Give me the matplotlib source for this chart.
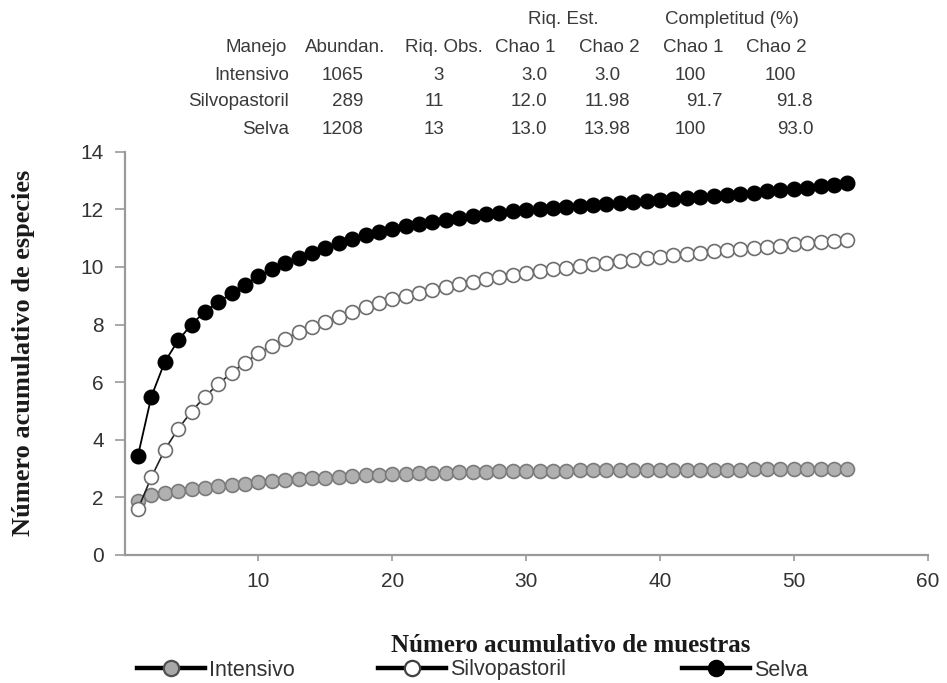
import matplotlib
matplotlib.use("Agg")
import matplotlib.pyplot as plt
from matplotlib.lines import Line2D

# ---------------- data ----------------
muestras = list(range(1, 55))

selva = [3.45, 5.50, 6.70, 7.45, 8.00, 8.45, 8.78, 9.08, 9.38, 9.68,
         9.92, 10.12, 10.32, 10.50, 10.67, 10.82, 10.97, 11.12, 11.22, 11.32,
         11.41, 11.49, 11.57, 11.64, 11.71, 11.77, 11.83, 11.88, 11.93, 11.97,
         12.01, 12.05, 12.09, 12.13, 12.16, 12.20, 12.23, 12.27, 12.30, 12.33,
         12.36, 12.40, 12.43, 12.47, 12.50, 12.54, 12.58, 12.62, 12.66, 12.70,
         12.75, 12.80, 12.86, 12.92]

silvopastoril = [1.60, 2.70, 3.65, 4.38, 4.98, 5.50, 5.93, 6.33, 6.68, 7.00,
                 7.27, 7.51, 7.73, 7.93, 8.10, 8.27, 8.44, 8.60, 8.74, 8.87,
                 8.99, 9.10, 9.21, 9.31, 9.40, 9.49, 9.57, 9.65, 9.72, 9.79,
                 9.86, 9.92, 9.98, 10.04, 10.10, 10.15, 10.20, 10.25, 10.30, 10.35,
                 10.40, 10.45, 10.50, 10.54, 10.58, 10.62, 10.66, 10.70, 10.74, 10.78,
                 10.82, 10.86, 10.90, 10.94]

intensivo = [1.88, 2.08, 2.16, 2.22, 2.28, 2.33, 2.38, 2.43, 2.48, 2.52,
             2.56, 2.60, 2.63, 2.66, 2.69, 2.72, 2.74, 2.76, 2.78, 2.80,
             2.82, 2.84, 2.85, 2.86, 2.87, 2.88, 2.89, 2.90, 2.91, 2.92,
             2.92, 2.93, 2.93, 2.94, 2.94, 2.94, 2.95, 2.95, 2.95, 2.95,
             2.96, 2.96, 2.96, 2.96, 2.96, 2.96, 2.97, 2.97, 2.97, 2.97,
             2.97, 2.97, 2.97, 2.97]

xticks = [10, 20, 30, 40, 50, 60]
yticks = [0, 2, 4, 6, 8, 10, 12, 14]

# table
manejo = ["Intensivo", "Silvopastoril", "Selva"]
abundan = ["1065", "289", "1208"]
riq_obs = ["3", "11", "13"]
est_chao1 = ["3.0", "12.0", "13.0"]
est_chao2 = ["3.0", "11.98", "13.98"]
comp_chao1 = ["100", "91.7", "100"]
comp_chao2 = ["100", "91.8", "93.0"]

series_names = ["Intensivo", "Silvopastoril", "Selva"]

# ---------------- figure ----------------
W, H = 947, 683
fig = plt.figure(figsize=(W / 100, H / 100), dpi=100)
fig.patch.set_facecolor("white")

ax = fig.add_axes([124.6 / W, 1 - 555 / H, (927.7 - 124.6) / W, (555 - 151.7) / H])

ax.plot(muestras, intensivo, color="#888888", lw=1.0, marker="o", ms=10,
        mfc="#b0b0b0", mec="#7a7a7a", mew=1.2, zorder=3)
ax.plot(muestras, silvopastoril, color="#222222", lw=1.2, marker="o", ms=10,
        mfc="white", mec="#6e6e6e", mew=1.2, zorder=4)
ax.plot(muestras, selva, color="black", lw=1.3, marker="o", ms=10.5,
        mfc="black", mec="black", mew=1.0, zorder=5)

ax.set_xlim(0, 60)
ax.set_ylim(0, 14)
ax.set_xticks(xticks)
ax.set_yticks(yticks)

for s in ["top", "right"]:
    ax.spines[s].set_visible(False)
for s in ["left", "bottom"]:
    ax.spines[s].set_color("#9a9a9a")
    ax.spines[s].set_linewidth(1.6)

sans = ["Liberation Sans", "DejaVu Sans"]
serif = ["Liberation Serif", "DejaVu Serif"]
ax.tick_params(axis="y", direction="out", length=7, width=1.2, color="#9a9a9a",
               pad=8, labelsize=15, labelcolor="#333333")
ax.tick_params(axis="x", direction="out", length=4, width=1.2, color="#9a9a9a",
               pad=8, labelsize=15, labelcolor="#333333")
for lab in ax.get_xticklabels() + ax.get_yticklabels():
    lab.set_family(sans)

fig.text(571 / W, 1 - 645 / H, "Número acumulativo de muestras", ha="center", va="center",
         family=serif, fontweight="bold", fontsize=18, color="#1a1a1a")
fig.text(24 / W, 1 - 353 / H, "Número acumulativo de especies", ha="center", va="center",
         rotation=90, family=serif, fontweight="bold", fontsize=19, color="#1a1a1a")

# ---------------- table ----------------
tc = "#3a3a3a"
tfs = 13.5

def t(x, y, s, ha="center"):
    fig.text(x / W, 1 - y / H, s, ha=ha, va="center", family=sans, fontsize=tfs, color=tc)

t(563, 19, "Riq. Est.")
t(732, 19, "Completitud (%)")
hy = 48
t(287, hy, "Manejo", ha="right")
t(345, hy, "Abundan.")
t(444, hy, "Riq. Obs.")
t(525, hy, "Chao 1")
t(609, hy, "Chao 2")
t(693, hy, "Chao 1")
t(776, hy, "Chao 2")

rows_y = [75, 102, 129]
c1_left = [675, 686, 675]
c2_left = [765, 776, 777]
for i, y in enumerate(rows_y):
    t(289, y, manejo[i], ha="right")
    t(363, y, abundan[i], ha="right")
    t(444, y, riq_obs[i], ha="right")
    t(547, y, est_chao1[i], ha="right")
    t(607, y, est_chao2[i], ha="center")
    t(c1_left[i], y, comp_chao1[i], ha="left")
    t(c2_left[i], y, comp_chao2[i], ha="left")

# ---------------- legend ----------------
handles = [
    Line2D([], [], color="black", lw=3.2, marker="o", ms=11, mfc="#a8a8a8", mec="#505050", mew=1.6),
    Line2D([], [], color="black", lw=3.2, marker="o", ms=11, mfc="white", mec="#404040", mew=1.6),
    Line2D([], [], color="black", lw=3.2, marker="o", ms=11, mfc="black", mec="black", mew=1.6),
]
leg_x = [137, 378, 682]
for h, name, lx in zip(handles, series_names, leg_x):
    leg = fig.legend([h], [name], loc="center left",
                     bbox_to_anchor=(lx / W, 1 - 670 / H), frameon=False,
                     handlelength=3.15, handletextpad=0.2, borderpad=0, borderaxespad=0,
                     prop={"family": sans, "size": 15.5})
    for txt in leg.get_texts():
        txt.set_color("#333333")

fig.savefig("out.png", dpi=100, facecolor="white")
